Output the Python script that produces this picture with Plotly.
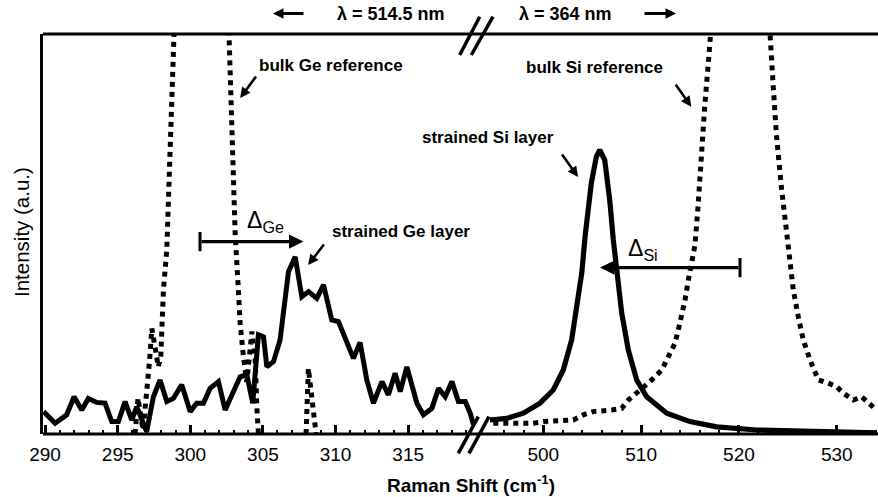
import plotly.graph_objects as go

# ---------------- data ----------------
# strained Ge layer (solid), 514.5 nm excitation
ge_strained_shift = [289.9, 290.69, 291.49, 292.0, 292.53, 292.98, 293.56, 294.13, 294.59, 295.05,
                     295.51, 295.97, 296.31, 296.66, 297.0, 297.46, 297.92, 298.38, 298.84, 299.41,
                     299.99, 300.44, 300.9, 301.36, 301.94, 302.4, 302.97, 303.43, 303.89, 304.3,
                     304.69, 305.04, 305.27, 305.73, 306.18, 306.76, 307.22, 307.68, 308.14, 308.71,
                     309.17, 309.74, 310.2, 310.89, 311.23, 311.69, 312.15, 312.61, 313.19, 313.64,
                     314.1, 314.45, 314.91, 315.6, 316.05, 316.63, 317.09, 317.55, 318.01, 318.46,
                     318.93, 319.27, 319.5]
ge_strained_int = [5.6, 2.7, 4.8, 9.3, 6.0, 8.9, 7.9, 7.7, 3.1, 3.1,
                   8.1, 3.5, 6.8, 3.5, 0.6, 9.3, 13.5, 8.1, 8.9, 12.3,
                   5.6, 7.7, 7.7, 11.4, 13.1, 6.0, 10.2, 14.3, 14.8, 7.7,
                   24.8, 24.3, 16.8, 18.1, 23.5, 40.6, 44.3, 34.3, 35.6, 33.9,
                   37.3, 28.5, 28.1, 21.4, 18.9, 22.9, 13.5, 7.7, 13.1, 9.8,
                   15.2, 10.6, 16.8, 7.7, 4.8, 6.4, 11.4, 9.3, 13.1, 8.1,
                   8.1, 5.2, 2.3]

# bulk Ge reference (dotted); None separates the visible pieces
ge_bulk_shift = [296.2, 296.4, 296.75, 297.1, 297.2, 297.35, 297.59, 297.8, 297.97, 298.08,
                 298.15, 298.38, 298.56, 298.73, 298.88, 300.7, 302.62, 302.74, 302.9, 303.09,
                 303.31, 303.43, 303.66, 303.77, 303.89, 304.24, 304.46, 304.58, 304.69,
                 None,
                 307.97, 308.13, 308.25, 308.48, 308.66]
ge_bulk_int = [0.0, 9.0, 1.0, 13.5, 18.5, 26.4, 20.3, 16.8, 19.3, 27.7,
               36.0, 46.0, 66.8, 83.5, 100.0, 330.0, 98.5, 83.5, 66.8, 50.0,
               36.0, 27.7, 19.3, 16.0, 13.0, 25.6, 19.3, 6.8, 0.0,
               None,
               0.0, 16.4, 12.7, 6.8, 0.0]

# strained Si layer (solid), 364 nm excitation
si_strained_shift = [494.55, 496.26, 497.96, 499.66, 501.02, 502.04, 502.9, 503.42, 503.93, 504.3,
                     504.91, 505.42, 505.77, 506.28, 506.79, 507.16, 507.5, 508.02, 508.69, 509.55,
                     510.57, 512.62, 515.0, 517.73, 521.82, 526.93, 534.09]
si_strained_int = [3.5, 3.9, 5.2, 7.7, 11.0, 16.0, 23.5, 31.8, 40.2, 50.0,
                   62.7, 69.3, 71.0, 68.5, 58.5, 48.5, 40.2, 30.2, 21.0, 13.5,
                   9.3, 5.2, 3.1, 1.8, 1.0, 0.6, 0.3]

# bulk Si reference (dotted)
si_bulk_shift = [494.89, 496.93, 498.98, 500.0, 502.04, 503.07, 504.09, 505.11, 506.99, 508.02,
                 508.69, 509.55, 510.22, 510.91, 512.11, 512.96, 513.47, 513.8, 514.15, 514.49,
                 514.83, 515.17, 515.51, 515.82, 516.16, 516.5, 516.84, 517.08, 520.15, 523.21,
                 523.49, 523.82, 524.34, 524.85, 525.22, 525.56, 526.07, 526.58, 527.27, 528.12,
                 529.14, 530.0, 530.67, 531.7, 532.55, 533.4, 534.08]
si_bulk_int = [2.7, 2.7, 2.7, 3.1, 3.5, 3.5, 4.8, 5.6, 6.0, 6.4,
               8.5, 10.2, 11.8, 13.1, 16.0, 19.8, 22.7, 26.0, 29.3, 33.5,
               38.5, 43.5, 47.3, 56.8, 70.2, 81.8, 91.8, 99.3, 400.0, 98.9,
               87.7, 75.2, 61.8, 50.2, 41.8, 36.0, 29.3, 23.5, 18.5, 13.5,
               12.7, 11.8, 10.2, 8.5, 9.3, 7.3, 6.0]

# peak-shift arrows (from bulk peak to strained peak)
ge_delta_from, ge_delta_to, ge_delta_level = 300.67, 307.79, 48.1
si_delta_from, si_delta_to, si_delta_level = 520.11, 505.8, 41.6

ge_tick0, ge_dtick = 290, 5
si_tick0, si_dtick = 500, 10

# ---------------- layout helpers ----------------
W, H = 878, 497
L, R, T, B = 43, 0, 34, 63
PW, PH = W - L - R, H - T - B
FONT = "Liberation Sans, Arial, Helvetica, sans-serif"


def px(xp):
    return (xp - L) / PW


def py(yp):
    return (H - B - yp) / PH


def label(text, xp, yp, size=17, bold=True, **kw):
    d = dict(text=text, x=px(xp), y=py(yp), xref="paper", yref="paper", showarrow=False,
             font=dict(family=FONT, size=size, color="black", weight="bold" if bold else "normal"),
             xanchor="center", yanchor="middle")
    d.update(kw)
    return d


def pointer(xr, x, y, ax, ay, width=2.6, size=0.8, head=2):
    return dict(x=x, y=y, ax=ax, ay=ay, xref=xr, yref="y", axref=xr, ayref="y", text="",
                showarrow=True, arrowhead=head, arrowsize=size, arrowwidth=width, arrowcolor="black")


fig = go.Figure()
solid = dict(color="black", width=5)
dotted = dict(color="black", width=5, dash="5px,5px")
fig.add_trace(go.Scatter(x=ge_bulk_shift, y=ge_bulk_int, mode="lines", line=dotted,
                         xaxis="x", yaxis="y", connectgaps=False, hoverinfo="skip", showlegend=False))
fig.add_trace(go.Scatter(x=ge_strained_shift, y=ge_strained_int, mode="lines", line=solid,
                         xaxis="x", yaxis="y", hoverinfo="skip", showlegend=False))
fig.add_trace(go.Scatter(x=si_bulk_shift, y=si_bulk_int, mode="lines", line=dotted,
                         xaxis="x2", yaxis="y", hoverinfo="skip", showlegend=False))
fig.add_trace(go.Scatter(x=si_strained_shift, y=si_strained_int, mode="lines",
                         line=dict(color="black", width=5.2),
                         xaxis="x2", yaxis="y", hoverinfo="skip", showlegend=False))

tickfont = dict(family=FONT, size=19, color="black")
common_x = dict(ticks="inside", ticklen=9, tickwidth=2.5, tickcolor="black", showgrid=False,
                zeroline=False, showline=False, tickfont=tickfont, anchor="y", tickmode="linear",
                ticklabelstandoff=7)

shapes = [
    dict(type="line", xref="paper", yref="paper", x0=0, x1=1, y0=1, y1=1,
         line=dict(color="black", width=3)),
    dict(type="line", xref="paper", yref="paper", x0=0, x1=1, y0=0, y1=0,
         line=dict(color="black", width=3)),
    # axis break marks, top and bottom
    dict(type="line", xref="paper", yref="paper", x0=px(459.7), y0=py(55), x1=px(479.7), y1=py(16.7),
         line=dict(color="black", width=3.5)),
    dict(type="line", xref="paper", yref="paper", x0=px(471.3), y0=py(55), x1=px(493), y1=py(16.7),
         line=dict(color="black", width=3.5)),
    dict(type="line", xref="paper", yref="paper", x0=px(458.3), y0=py(453.3), x1=px(478.3), y1=py(416.7),
         line=dict(color="black", width=3.5)),
    dict(type="line", xref="paper", yref="paper", x0=px(469), y0=py(453.3), x1=px(489), y1=py(416.7),
         line=dict(color="black", width=3.5)),
    # end bars of the shift arrows
    dict(type="line", xref="x", yref="y", x0=ge_delta_from, x1=ge_delta_from,
         y0=ge_delta_level - 2.4, y1=ge_delta_level + 2.4, line=dict(color="black", width=3)),
    dict(type="line", xref="x2", yref="y", x0=si_delta_from, x1=si_delta_from,
         y0=si_delta_level - 2.4, y1=si_delta_level + 2.4, line=dict(color="black", width=3)),
]

annotations = [
    label("λ = 514.5 nm", 390.5, 14, size=18),
    label("λ = 364 nm", 565.5, 14, size=18),
    dict(x=px(273), y=py(13.5), xref="paper", yref="paper", ax=32, ay=0, axref="pixel", ayref="pixel",
         text="", showarrow=True, arrowhead=2, arrowsize=0.7, arrowwidth=3, arrowcolor="black"),
    dict(x=px(676), y=py(13.5), xref="paper", yref="paper", ax=-33, ay=0, axref="pixel", ayref="pixel",
         text="", showarrow=True, arrowhead=2, arrowsize=0.7, arrowwidth=3, arrowcolor="black"),
    label("bulk Ge reference", 331, 66),
    label("strained Ge layer", 400.5, 231),
    label("strained Si layer", 488, 137),
    label("bulk Si reference", 594.5, 67),
    label("Δ<sub>Ge</sub>", 245, 221, size=23, bold=False, xanchor="left"),
    label("Δ<sub>Si</sub>", 626, 249, size=23, bold=False, xanchor="left"),
    label("Raman Shift (cm<sup>-1</sup>)", 471, 484, size=19),
    label("Intensity (a.u.)", 21, 232, size=20.5, bold=False, textangle=-90),
    pointer("x", 303.43, 84.0, 304.6, 89.75),
    pointer("x", 308.11, 42.25, 309.28, 47.75),
    pointer("x2", 503.55, 64.25, 501.81, 70.25),
    pointer("x2", 515.13, 81.8, 513.44, 87.7),
    pointer("x", ge_delta_to, ge_delta_level, ge_delta_from, ge_delta_level, width=3.4, size=0.85),
    pointer("x2", si_delta_to, si_delta_level, si_delta_from, si_delta_level, width=3.4, size=0.85),
]

fig.update_layout(
    width=W, height=H,
    margin=dict(l=L, r=R, t=T, b=B, pad=0),
    paper_bgcolor="white", plot_bgcolor="white",
    xaxis=dict(domain=[0, px(475)], range=[289.86, 319.6], tick0=ge_tick0, dtick=ge_dtick,
               minor=dict(ticks="inside", ticklen=4, tickwidth=2, tickcolor="black", tick0=ge_tick0, dtick=1),
               **common_x),
    xaxis2=dict(domain=[px(485), 1], range=[494.04, 534.22], tick0=si_tick0, dtick=si_dtick,
                minor=dict(ticks="inside", ticklen=4, tickwidth=2, tickcolor="black", tick0=si_tick0, dtick=2),
                **common_x),
    yaxis=dict(domain=[0, 1], range=[0, 100], showticklabels=False, ticks="", showgrid=False,
               zeroline=False, showline=True, linewidth=3, linecolor="black"),
    shapes=shapes,
    annotations=annotations,
    showlegend=False,
)

fig.write_html("out.html")
